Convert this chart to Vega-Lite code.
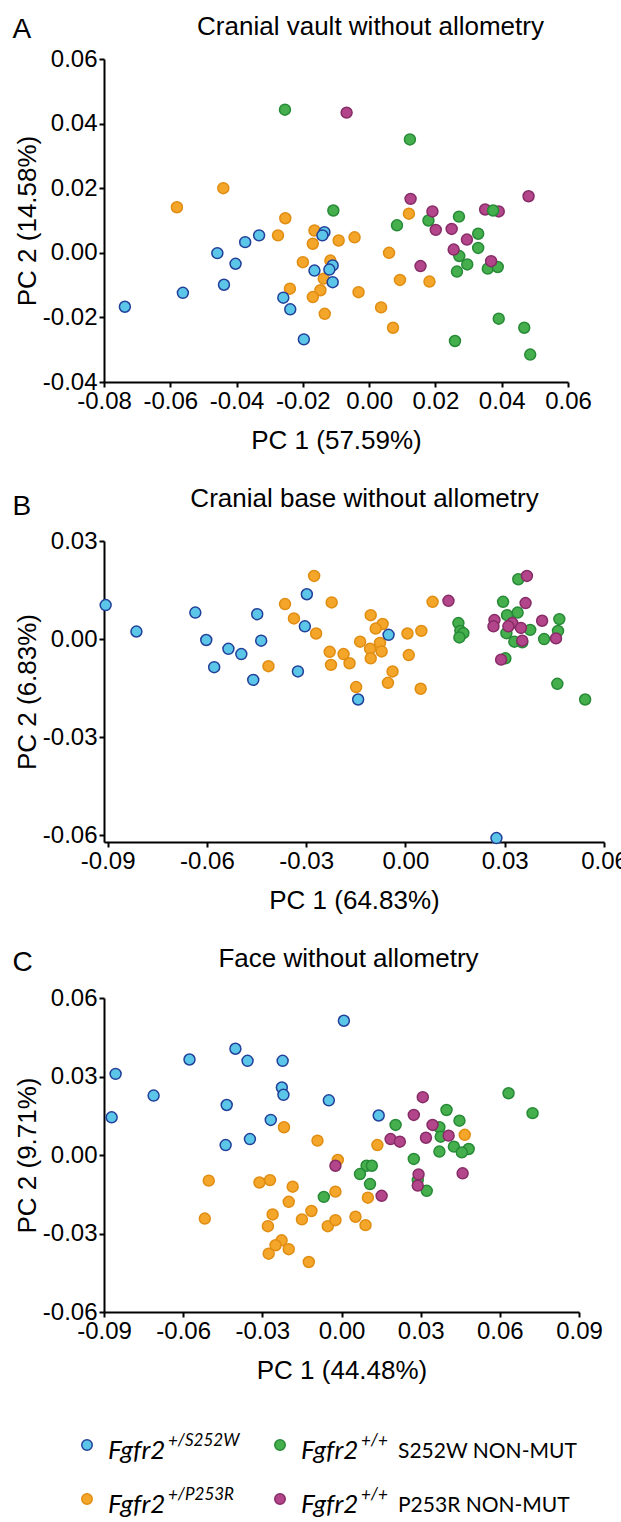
{
  "$schema": "https://vega.github.io/schema/vega-lite/v6.json",
  "padding": {"top": 13, "left": 12, "right": 5, "bottom": 0},
  "spacing": 32,
  "config": {
    "view": {"stroke": null},
    "axis": {"grid": false, "domainColor": "#000", "domainWidth": 2, "tickColor": "#000", "tickWidth": 2, "tickSize": 5,
      "labelFont": "Liberation Sans", "labelFontSize": 24, "labelColor": "#000", "labelPadding": 2, "labelFlush": false, "labelOverlap": false,
      "titleFont": "Liberation Sans", "titleFontSize": 26, "titleFontWeight": "normal", "titleColor": "#000"},
    "axisX": {"titlePadding": 14},
    "axisY": {"titlePadding": 2}
  },
  "datasets": {
    "A": [
      {"pc1": -0.058, "pc2": 0.0141, "g": "P253R"}, {"pc1": -0.044, "pc2": 0.020, "g": "P253R"}, {"pc1": -0.0253, "pc2": 0.0107, "g": "P253R"},
      {"pc1": -0.0275, "pc2": 0.0054, "g": "P253R"}, {"pc1": -0.0165, "pc2": 0.0069, "g": "P253R"}, {"pc1": -0.017, "pc2": 0.0028, "g": "P253R"},
      {"pc1": -0.0092, "pc2": 0.0038, "g": "P253R"}, {"pc1": -0.0044, "pc2": 0.0048, "g": "P253R"}, {"pc1": -0.020, "pc2": -0.0029, "g": "P253R"},
      {"pc1": -0.0117, "pc2": -0.0024, "g": "P253R"}, {"pc1": -0.0137, "pc2": -0.0080, "g": "P253R"}, {"pc1": -0.0239, "pc2": -0.0111, "g": "P253R"},
      {"pc1": -0.0147, "pc2": -0.0116, "g": "P253R"}, {"pc1": -0.017, "pc2": -0.0137, "g": "P253R"}, {"pc1": -0.0032, "pc2": -0.0122, "g": "P253R"},
      {"pc1": -0.0134, "pc2": -0.0189, "g": "P253R"}, {"pc1": 0.0036, "pc2": -0.0169, "g": "P253R"}, {"pc1": 0.0072, "pc2": -0.0232, "g": "P253R"},
      {"pc1": 0.006, "pc2": 0.0, "g": "P253R"}, {"pc1": 0.0093, "pc2": -0.0084, "g": "P253R"}, {"pc1": 0.0182, "pc2": -0.0089, "g": "P253R"},
      {"pc1": 0.012, "pc2": 0.0121, "g": "P253R"},
      {"pc1": -0.0254, "pc2": 0.0443, "g": "S252W NM"}, {"pc1": 0.0123, "pc2": 0.0351, "g": "S252W NM"}, {"pc1": -0.0108, "pc2": 0.0131, "g": "S252W NM"},
      {"pc1": 0.0084, "pc2": 0.0085, "g": "S252W NM"}, {"pc1": 0.0179, "pc2": 0.010, "g": "S252W NM"}, {"pc1": 0.0271, "pc2": 0.0112, "g": "S252W NM"},
      {"pc1": 0.0329, "pc2": 0.0059, "g": "S252W NM"}, {"pc1": 0.0329, "pc2": 0.0015, "g": "S252W NM"}, {"pc1": 0.0272, "pc2": -0.001, "g": "S252W NM"},
      {"pc1": 0.0296, "pc2": -0.0036, "g": "S252W NM"}, {"pc1": 0.0265, "pc2": -0.0058, "g": "S252W NM"}, {"pc1": 0.0358, "pc2": -0.0049, "g": "S252W NM"},
      {"pc1": 0.0388, "pc2": -0.0044, "g": "S252W NM"}, {"pc1": 0.0391, "pc2": -0.0204, "g": "S252W NM"},
      {"pc1": 0.0468, "pc2": -0.0232, "g": "S252W NM"}, {"pc1": 0.0259, "pc2": -0.0273, "g": "S252W NM"}, {"pc1": 0.0486, "pc2": -0.0315, "g": "S252W NM"},
      {"pc1": -0.0068, "pc2": 0.0434, "g": "P253R NM"}, {"pc1": 0.0125, "pc2": 0.0167, "g": "P253R NM"}, {"pc1": 0.0191, "pc2": 0.0128, "g": "P253R NM"},
      {"pc1": 0.0201, "pc2": 0.0071, "g": "P253R NM"}, {"pc1": 0.0249, "pc2": 0.0074, "g": "P253R NM"}, {"pc1": 0.0295, "pc2": 0.0041, "g": "P253R NM"},
      {"pc1": 0.0255, "pc2": 0.001, "g": "P253R NM"}, {"pc1": 0.0155, "pc2": -0.0041, "g": "P253R NM"}, {"pc1": 0.035, "pc2": 0.0134, "g": "P253R NM"},
      {"pc1": 0.0391, "pc2": 0.0128, "g": "P253R NM"}, {"pc1": 0.0481, "pc2": 0.0175, "g": "P253R NM"}, {"pc1": 0.0368, "pc2": -0.0026, "g": "P253R NM"},
      {"pc1": 0.0374, "pc2": 0.0131, "g": "S252W NM"},
      {"pc1": -0.0737, "pc2": -0.0167, "g": "S252W"}, {"pc1": -0.0562, "pc2": -0.0124, "g": "S252W"}, {"pc1": -0.0458, "pc2": -0.0001, "g": "S252W"},
      {"pc1": -0.0438, "pc2": -0.0099, "g": "S252W"}, {"pc1": -0.0403, "pc2": -0.0034, "g": "S252W"}, {"pc1": -0.0374, "pc2": 0.0033, "g": "S252W"},
      {"pc1": -0.0332, "pc2": 0.0054, "g": "S252W"}, {"pc1": -0.0259, "pc2": -0.0139, "g": "S252W"}, {"pc1": -0.0238, "pc2": -0.0175, "g": "S252W"},
      {"pc1": -0.0197, "pc2": -0.0268, "g": "S252W"}, {"pc1": -0.0165, "pc2": -0.0055, "g": "S252W"}, {"pc1": -0.0135, "pc2": 0.0064, "g": "S252W"},
      {"pc1": -0.0141, "pc2": 0.0054, "g": "S252W"}, {"pc1": -0.011, "pc2": -0.0039, "g": "S252W"}, {"pc1": -0.012, "pc2": -0.0052, "g": "S252W"},
      {"pc1": -0.011, "pc2": -0.0091, "g": "S252W"}
    ],
    "B": [
      {"pc1": -0.0276, "pc2": 0.0193, "g": "P253R"}, {"pc1": -0.0364, "pc2": 0.0107, "g": "P253R"}, {"pc1": -0.0223, "pc2": 0.0112, "g": "P253R"},
      {"pc1": -0.0337, "pc2": 0.0063, "g": "P253R"}, {"pc1": -0.027, "pc2": 0.0017, "g": "P253R"}, {"pc1": -0.0414, "pc2": -0.0083, "g": "P253R"},
      {"pc1": -0.0105, "pc2": 0.0073, "g": "P253R"}, {"pc1": -0.0069, "pc2": 0.0046, "g": "P253R"}, {"pc1": -0.009, "pc2": 0.0032, "g": "P253R"},
      {"pc1": -0.0137, "pc2": -0.0008, "g": "P253R"}, {"pc1": -0.0077, "pc2": -0.0012, "g": "P253R"}, {"pc1": -0.0107, "pc2": -0.003, "g": "P253R"},
      {"pc1": -0.0072, "pc2": -0.0038, "g": "P253R"}, {"pc1": -0.0229, "pc2": -0.0039, "g": "P253R"}, {"pc1": -0.0187, "pc2": -0.0046, "g": "P253R"},
      {"pc1": -0.0225, "pc2": -0.0079, "g": "P253R"}, {"pc1": -0.0169, "pc2": -0.0074, "g": "P253R"}, {"pc1": -0.0105, "pc2": -0.0059, "g": "P253R"},
      {"pc1": 0.0006, "pc2": 0.0017, "g": "P253R"}, {"pc1": 0.0048, "pc2": 0.0025, "g": "P253R"}, {"pc1": 0.001, "pc2": -0.0049, "g": "P253R"},
      {"pc1": 0.0082, "pc2": 0.0114, "g": "P253R"}, {"pc1": -0.0039, "pc2": -0.0099, "g": "P253R"}, {"pc1": -0.0149, "pc2": -0.0147, "g": "P253R"},
      {"pc1": -0.0053, "pc2": -0.0134, "g": "P253R"}, {"pc1": 0.0046, "pc2": -0.0152, "g": "P253R"},
      {"pc1": 0.0341, "pc2": 0.0183, "g": "S252W NM"}, {"pc1": 0.0295, "pc2": 0.0114, "g": "S252W NM"}, {"pc1": 0.0307, "pc2": 0.0073, "g": "S252W NM"},
      {"pc1": 0.0339, "pc2": 0.0081, "g": "S252W NM"}, {"pc1": 0.016, "pc2": 0.0049, "g": "S252W NM"}, {"pc1": 0.0166, "pc2": 0.0025, "g": "S252W NM"},
      {"pc1": 0.0175, "pc2": 0.0018, "g": "S252W NM"}, {"pc1": 0.0163, "pc2": 0.0005, "g": "S252W NM"}, {"pc1": 0.0305, "pc2": 0.0018, "g": "S252W NM"},
      {"pc1": 0.0329, "pc2": -0.0008, "g": "S252W NM"}, {"pc1": 0.0353, "pc2": -0.001, "g": "S252W NM"}, {"pc1": 0.0377, "pc2": 0.0028, "g": "S252W NM"},
      {"pc1": 0.0419, "pc2": 0.0, "g": "S252W NM"}, {"pc1": 0.0465, "pc2": 0.0061, "g": "S252W NM"}, {"pc1": 0.0461, "pc2": 0.0025, "g": "S252W NM"},
      {"pc1": 0.0302, "pc2": -0.0059, "g": "S252W NM"}, {"pc1": 0.0459, "pc2": -0.0137, "g": "S252W NM"}, {"pc1": 0.0543, "pc2": -0.0185, "g": "S252W NM"},
      {"pc1": 0.013, "pc2": 0.0117, "g": "P253R NM"}, {"pc1": 0.0367, "pc2": 0.0193, "g": "P253R NM"}, {"pc1": 0.0363, "pc2": 0.011, "g": "P253R NM"},
      {"pc1": 0.0269, "pc2": 0.0058, "g": "P253R NM"}, {"pc1": 0.0266, "pc2": 0.0039, "g": "P253R NM"}, {"pc1": 0.0323, "pc2": 0.0049, "g": "P253R NM"},
      {"pc1": 0.0311, "pc2": 0.0039, "g": "P253R NM"}, {"pc1": 0.0349, "pc2": 0.0034, "g": "P253R NM"}, {"pc1": 0.0413, "pc2": 0.0056, "g": "P253R NM"},
      {"pc1": 0.0455, "pc2": 0.0002, "g": "P253R NM"}, {"pc1": 0.0353, "pc2": -0.0005, "g": "P253R NM"}, {"pc1": 0.0289, "pc2": -0.0063, "g": "P253R NM"},
      {"pc1": -0.0906, "pc2": 0.0104, "g": "S252W"}, {"pc1": -0.0813, "pc2": 0.0023, "g": "S252W"}, {"pc1": -0.0635, "pc2": 0.0081, "g": "S252W"},
      {"pc1": -0.0602, "pc2": -0.0003, "g": "S252W"}, {"pc1": -0.0535, "pc2": -0.003, "g": "S252W"}, {"pc1": -0.0496, "pc2": -0.0046, "g": "S252W"},
      {"pc1": -0.0578, "pc2": -0.0086, "g": "S252W"}, {"pc1": -0.0448, "pc2": 0.0076, "g": "S252W"}, {"pc1": -0.0436, "pc2": -0.0005, "g": "S252W"},
      {"pc1": -0.046, "pc2": -0.0125, "g": "S252W"}, {"pc1": -0.0325, "pc2": -0.0099, "g": "S252W"}, {"pc1": -0.0298, "pc2": 0.0137, "g": "S252W"},
      {"pc1": -0.0304, "pc2": 0.0039, "g": "S252W"}, {"pc1": -0.0051, "pc2": 0.0013, "g": "S252W"}, {"pc1": -0.0143, "pc2": -0.0185, "g": "S252W"},
      {"pc1": 0.0275, "pc2": -0.0609, "g": "S252W"}
    ],
    "C": [
      {"pc1": -0.0218, "pc2": 0.0106, "g": "P253R"}, {"pc1": -0.0091, "pc2": 0.0055, "g": "P253R"}, {"pc1": 0.0136, "pc2": 0.0038, "g": "P253R"},
      {"pc1": 0.0467, "pc2": 0.0077, "g": "P253R"}, {"pc1": -0.0014, "pc2": -0.0019, "g": "P253R"}, {"pc1": -0.0503, "pc2": -0.0098, "g": "P253R"},
      {"pc1": -0.0311, "pc2": -0.0105, "g": "P253R"}, {"pc1": -0.0271, "pc2": -0.0096, "g": "P253R"}, {"pc1": -0.0185, "pc2": -0.0121, "g": "P253R"},
      {"pc1": -0.0023, "pc2": -0.014, "g": "P253R"}, {"pc1": 0.01, "pc2": -0.0163, "g": "P253R"}, {"pc1": -0.02, "pc2": -0.0179, "g": "P253R"},
      {"pc1": -0.0261, "pc2": -0.0227, "g": "P253R"}, {"pc1": -0.0114, "pc2": -0.0214, "g": "P253R"}, {"pc1": -0.015, "pc2": -0.0246, "g": "P253R"},
      {"pc1": -0.0518, "pc2": -0.0243, "g": "P253R"}, {"pc1": -0.0279, "pc2": -0.0272, "g": "P253R"}, {"pc1": -0.0052, "pc2": -0.0272, "g": "P253R"},
      {"pc1": -0.0023, "pc2": -0.0249, "g": "P253R"}, {"pc1": 0.0053, "pc2": -0.0236, "g": "P253R"}, {"pc1": 0.0091, "pc2": -0.0268, "g": "P253R"},
      {"pc1": -0.0227, "pc2": -0.0326, "g": "P253R"}, {"pc1": -0.025, "pc2": -0.0345, "g": "P253R"}, {"pc1": -0.02, "pc2": -0.036, "g": "P253R"},
      {"pc1": -0.0276, "pc2": -0.0377, "g": "P253R"}, {"pc1": -0.0124, "pc2": -0.0409, "g": "P253R"},
      {"pc1": 0.0633, "pc2": 0.0236, "g": "S252W NM"}, {"pc1": 0.0724, "pc2": 0.016, "g": "S252W NM"}, {"pc1": 0.0398, "pc2": 0.0172, "g": "S252W NM"},
      {"pc1": 0.0447, "pc2": 0.0131, "g": "S252W NM"}, {"pc1": 0.0205, "pc2": 0.0115, "g": "S252W NM"}, {"pc1": 0.0371, "pc2": 0.0106, "g": "S252W NM"},
      {"pc1": 0.0376, "pc2": 0.007, "g": "S252W NM"}, {"pc1": 0.0426, "pc2": 0.0032, "g": "S252W NM"}, {"pc1": 0.0482, "pc2": 0.0023, "g": "S252W NM"},
      {"pc1": 0.0371, "pc2": 0.0013, "g": "S252W NM"}, {"pc1": 0.0456, "pc2": 0.001, "g": "S252W NM"}, {"pc1": 0.0274, "pc2": -0.0015, "g": "S252W NM"},
      {"pc1": 0.0095, "pc2": -0.0041, "g": "S252W NM"}, {"pc1": 0.0115, "pc2": -0.0041, "g": "S252W NM"}, {"pc1": 0.007, "pc2": -0.0073, "g": "S252W NM"},
      {"pc1": 0.0108, "pc2": -0.0111, "g": "S252W NM"}, {"pc1": -0.0067, "pc2": -0.016, "g": "S252W NM"}, {"pc1": 0.0289, "pc2": -0.0096, "g": "S252W NM"},
      {"pc1": 0.0323, "pc2": -0.0137, "g": "S252W NM"},
      {"pc1": 0.0308, "pc2": 0.0221, "g": "P253R NM"}, {"pc1": 0.0274, "pc2": 0.0153, "g": "P253R NM"}, {"pc1": 0.0345, "pc2": 0.0115, "g": "P253R NM"},
      {"pc1": 0.032, "pc2": 0.0066, "g": "P253R NM"}, {"pc1": 0.0406, "pc2": 0.0074, "g": "P253R NM"}, {"pc1": 0.0186, "pc2": 0.0061, "g": "P253R NM"},
      {"pc1": 0.0221, "pc2": 0.0051, "g": "P253R NM"}, {"pc1": -0.0023, "pc2": -0.0041, "g": "P253R NM"}, {"pc1": 0.0292, "pc2": -0.0074, "g": "P253R NM"},
      {"pc1": 0.0289, "pc2": -0.0117, "g": "P253R NM"}, {"pc1": 0.0459, "pc2": -0.007, "g": "P253R NM"}, {"pc1": 0.0152, "pc2": -0.0156, "g": "P253R NM"},
      {"pc1": 0.0009, "pc2": 0.0513, "g": "S252W"}, {"pc1": -0.0402, "pc2": 0.0406, "g": "S252W"}, {"pc1": -0.0356, "pc2": 0.036, "g": "S252W"},
      {"pc1": -0.0576, "pc2": 0.0365, "g": "S252W"}, {"pc1": -0.0223, "pc2": 0.036, "g": "S252W"}, {"pc1": -0.0856, "pc2": 0.031, "g": "S252W"},
      {"pc1": -0.0712, "pc2": 0.0227, "g": "S252W"}, {"pc1": -0.0226, "pc2": 0.0258, "g": "S252W"}, {"pc1": -0.022, "pc2": 0.023, "g": "S252W"},
      {"pc1": -0.0048, "pc2": 0.0209, "g": "S252W"}, {"pc1": -0.0435, "pc2": 0.0191, "g": "S252W"}, {"pc1": -0.0871, "pc2": 0.0144, "g": "S252W"},
      {"pc1": -0.0268, "pc2": 0.0134, "g": "S252W"}, {"pc1": 0.0141, "pc2": 0.0151, "g": "S252W"}, {"pc1": -0.0347, "pc2": 0.0061, "g": "S252W"},
      {"pc1": -0.0439, "pc2": 0.0038, "g": "S252W"}
    ],
    "legend": [
      {"col": 0, "row": 0, "g": "S252W", "gene": "Fgfr2", "sup": "+/S252W", "suffix": ""},
      {"col": 1, "row": 0, "g": "S252W NM", "gene": "Fgfr2", "sup": "+/+", "suffix": "S252W NON-MUT"},
      {"col": 0, "row": 1, "g": "P253R", "gene": "Fgfr2", "sup": "+/P253R", "suffix": ""},
      {"col": 1, "row": 1, "g": "P253R NM", "gene": "Fgfr2", "sup": "+/+", "suffix": "P253R NON-MUT"}
    ]
  },
  "vconcat": [
    {
      "width": 464, "height": 323,
      "data": {"name": "A"},
      "layer": [
        {
          "mark": {"type": "point", "shape": "circle", "filled": true, "size": 120, "strokeWidth": 1.5, "opacity": 1},
          "encoding": {
            "x": {"field": "pc1", "type": "quantitative", "scale": {"domain": [-0.08, 0.06], "nice": false, "zero": false},
              "axis": {"orient": "bottom", "values": [-0.08, -0.06, -0.04, -0.02, 0, 0.02, 0.04, 0.06], "format": ".2f", "labelExpr": "replace(datum.label, '\u2212', '-')", "title": "PC 1 (57.59%)"}},
            "y": {"field": "pc2", "type": "quantitative", "scale": {"domain": [-0.04, 0.06], "nice": false, "zero": false},
              "axis": {"orient": "left", "values": [-0.04, -0.02, 0, 0.02, 0.04, 0.06], "format": ".2f", "labelExpr": "replace(datum.label, '\u2212', '-')", "title": "PC 2 (14.58%)"}},
            "fill": {"field": "g", "type": "nominal", "legend": null, "scale": {"domain": ["S252W", "P253R", "S252W NM", "P253R NM"], "range": ["#5cc6e8", "#f4a62a", "#44af4c", "#b3468a"]}},
            "stroke": {"field": "g", "type": "nominal", "legend": null, "scale": {"domain": ["S252W", "P253R", "S252W NM", "P253R NM"], "range": ["#22409a", "#e08d12", "#278a37", "#862c66"]}}
          }
        },
        {
          "mark": {"type": "point", "opacity": 0},
          "encoding": {
            "x": {"field": "pc1", "type": "quantitative",
              "axis": {"orient": "top", "labels": false, "ticks": false, "domain": false, "title": "Cranial vault without allometry", "titleX": 266, "titleY": -25, "titleAlign": "center", "titleBaseline": "alphabetic"}}
          }
        },
        {
          "mark": {"type": "point", "opacity": 0},
          "encoding": {
            "y": {"field": "pc2", "type": "quantitative",
              "axis": {"orient": "right", "labels": false, "ticks": false, "domain": false, "title": "A", "titleAngle": 0, "titleX": -556, "titleY": -22, "titleAlign": "left", "titleBaseline": "alphabetic", "titleFontSize": 28}}
          }
        }
      ]
    },
    {
      "width": 500, "height": 301,
      "data": {"name": "B"},
      "layer": [
        {
          "mark": {"type": "point", "shape": "circle", "filled": true, "size": 120, "strokeWidth": 1.5, "opacity": 1},
          "encoding": {
            "x": {"field": "pc1", "type": "quantitative", "scale": {"domain": [-0.0911, 0.06], "nice": false, "zero": false},
              "axis": {"orient": "bottom", "values": [-0.09, -0.06, -0.03, 0, 0.03, 0.06], "format": ".2f", "labelExpr": "replace(datum.label, '\u2212', '-')", "title": "PC 1 (64.83%)"}},
            "y": {"field": "pc2", "type": "quantitative", "scale": {"domain": [-0.0621, 0.03], "nice": false, "zero": false},
              "axis": {"orient": "left", "values": [-0.06, -0.03, 0, 0.03], "format": ".2f", "labelExpr": "replace(datum.label, '\u2212', '-')", "title": "PC 2 (6.83%)"}},
            "fill": {"field": "g", "type": "nominal", "legend": null, "scale": {"domain": ["S252W", "P253R", "S252W NM", "P253R NM"], "range": ["#5cc6e8", "#f4a62a", "#44af4c", "#b3468a"]}},
            "stroke": {"field": "g", "type": "nominal", "legend": null, "scale": {"domain": ["S252W", "P253R", "S252W NM", "P253R NM"], "range": ["#22409a", "#e08d12", "#278a37", "#862c66"]}}
          }
        },
        {
          "mark": {"type": "point", "opacity": 0},
          "encoding": {
            "x": {"field": "pc1", "type": "quantitative",
              "axis": {"orient": "top", "labels": false, "ticks": false, "domain": false, "title": "Cranial base without allometry", "titleX": 260, "titleY": -35, "titleAlign": "center", "titleBaseline": "alphabetic"}}
          }
        },
        {
          "mark": {"type": "point", "opacity": 0},
          "encoding": {
            "y": {"field": "pc2", "type": "quantitative",
              "axis": {"orient": "right", "labels": false, "ticks": false, "domain": false, "title": "B", "titleAngle": 0, "titleX": -592, "titleY": -27, "titleAlign": "left", "titleBaseline": "alphabetic", "titleFontSize": 28}}
          }
        }
      ]
    },
    {
      "width": 475, "height": 314,
      "data": {"name": "C"},
      "layer": [
        {
          "mark": {"type": "point", "shape": "circle", "filled": true, "size": 120, "strokeWidth": 1.5, "opacity": 1},
          "encoding": {
            "x": {"field": "pc1", "type": "quantitative", "scale": {"domain": [-0.09, 0.09], "nice": false, "zero": false},
              "axis": {"orient": "bottom", "values": [-0.09, -0.06, -0.03, 0, 0.03, 0.06, 0.09], "format": ".2f", "labelExpr": "replace(datum.label, '\u2212', '-')", "title": "PC 1 (44.48%)"}},
            "y": {"field": "pc2", "type": "quantitative", "scale": {"domain": [-0.06, 0.06], "nice": false, "zero": false},
              "axis": {"orient": "left", "values": [-0.06, -0.03, 0, 0.03, 0.06], "format": ".2f", "labelExpr": "replace(datum.label, '\u2212', '-')", "title": "PC 2 (9.71%)"}},
            "fill": {"field": "g", "type": "nominal", "legend": null, "scale": {"domain": ["S252W", "P253R", "S252W NM", "P253R NM"], "range": ["#5cc6e8", "#f4a62a", "#44af4c", "#b3468a"]}},
            "stroke": {"field": "g", "type": "nominal", "legend": null, "scale": {"domain": ["S252W", "P253R", "S252W NM", "P253R NM"], "range": ["#22409a", "#e08d12", "#278a37", "#862c66"]}}
          }
        },
        {
          "mark": {"type": "point", "opacity": 0},
          "encoding": {
            "x": {"field": "pc1", "type": "quantitative",
              "axis": {"orient": "top", "labels": false, "ticks": false, "domain": false, "title": "Face without allometry", "titleX": 244, "titleY": -32, "titleAlign": "center", "titleBaseline": "alphabetic"}}
          }
        },
        {
          "mark": {"type": "point", "opacity": 0},
          "encoding": {
            "y": {"field": "pc2", "type": "quantitative",
              "axis": {"orient": "right", "labels": false, "ticks": false, "domain": false, "title": "C", "titleAngle": 0, "titleX": -567, "titleY": -28, "titleAlign": "left", "titleBaseline": "alphabetic", "titleFontSize": 28}}
          }
        }
      ]
    },
    {
      "width": 475, "height": 88,
      "data": {"name": "legend"},
      "encoding": {
        "x": {"field": "col", "type": "quantitative", "scale": {"domain": [0, 1], "range": [-17, 176], "nice": false, "zero": false}, "axis": null},
        "y": {"field": "row", "type": "quantitative", "scale": {"domain": [0, 1], "range": [30, 84], "nice": false, "zero": false}, "axis": null}
      },
      "layer": [
        {
          "mark": {"type": "point", "shape": "circle", "filled": true, "size": 110, "strokeWidth": 1.5, "opacity": 1},
          "encoding": {
            "fill": {"field": "g", "type": "nominal", "legend": null, "scale": {"domain": ["S252W", "P253R", "S252W NM", "P253R NM"], "range": ["#5cc6e8", "#f4a62a", "#44af4c", "#b3468a"]}},
            "stroke": {"field": "g", "type": "nominal", "legend": null, "scale": {"domain": ["S252W", "P253R", "S252W NM", "P253R NM"], "range": ["#22409a", "#e08d12", "#278a37", "#862c66"]}}
          }
        },
        {
          "mark": {"type": "text", "align": "left", "baseline": "alphabetic", "dx": 21, "dy": 14, "font": "Lato", "fontStyle": "italic", "fontSize": 26, "color": "#000"},
          "encoding": {"text": {"field": "gene"}}
        },
        {
          "mark": {"type": "text", "align": "left", "baseline": "alphabetic", "dx": 81, "dy": 1, "font": "Lato", "fontStyle": "italic", "fontSize": 17, "color": "#000"},
          "encoding": {"text": {"field": "sup"}}
        },
        {
          "mark": {"type": "text", "align": "left", "baseline": "alphabetic", "dx": 118, "dy": 13, "font": "Lato", "fontSize": 21, "color": "#000"},
          "encoding": {"text": {"field": "suffix"}}
        }
      ]
    }
  ]
}
